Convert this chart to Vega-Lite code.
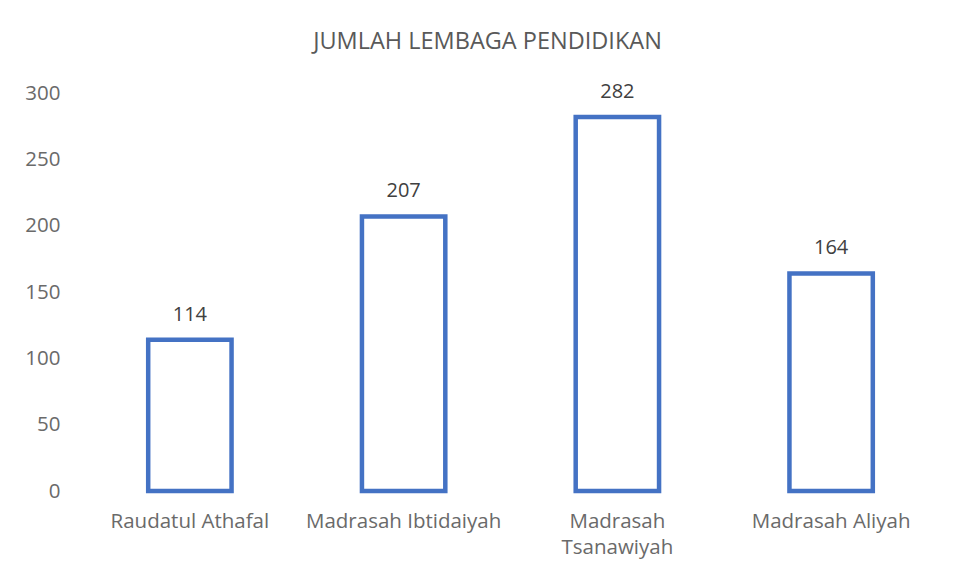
{
  "$schema": "https://vega.github.io/schema/vega-lite/v6.json",
  "autosize": {"type": "none"},
  "width": 855,
  "height": 398,
  "padding": {"left": 83, "top": 93, "right": 27, "bottom": 87},
  "background": "white",
  "title": {
    "text": "JUMLAH LEMBAGA PENDIDIKAN",
    "anchor": "middle",
    "dx": -23,
    "offset": 28,
    "font": "Open Sans",
    "fontSize": 23.5,
    "fontWeight": "normal",
    "color": "#595959",
    "limit": 0
  },
  "config": {"view": {"stroke": null}},
  "data": {
    "values": [
      {"kategori": "Raudatul Athafal", "jumlah": 114},
      {"kategori": "Madrasah Ibtidaiyah", "jumlah": 207},
      {"kategori": "Madrasah Tsanawiyah", "jumlah": 282},
      {"kategori": "Madrasah Aliyah", "jumlah": 164}
    ]
  },
  "encoding": {
    "x": {
      "field": "kategori",
      "type": "nominal",
      "sort": null,
      "title": null,
      "scale": {"paddingInner": 0.61, "paddingOuter": 0.305},
      "axis": {
        "domain": false,
        "ticks": false,
        "labelAngle": 0,
        "labelFont": "Open Sans",
        "labelFontSize": 20.5,
        "labelColor": "#6a6a6a",
        "labelPadding": 20,
        "labelLimit": 0,
        "labelLineHeight": 26,
        "labelExpr": "datum.label == 'Madrasah Tsanawiyah' ? ['Madrasah', 'Tsanawiyah'] : datum.label"
      }
    },
    "y": {
      "field": "jumlah",
      "type": "quantitative",
      "title": null,
      "scale": {"domain": [0, 300], "nice": false},
      "axis": {
        "values": [0, 50, 100, 150, 200, 250, 300],
        "grid": false,
        "domain": false,
        "ticks": false,
        "labelFont": "Open Sans",
        "labelFontSize": 20.5,
        "labelColor": "#6a6a6a",
        "labelPadding": 23
      }
    }
  },
  "layer": [
    {
      "mark": {"type": "bar", "fill": "white", "stroke": "#4472C4", "strokeWidth": 4.5}
    },
    {
      "mark": {"type": "text", "baseline": "alphabetic", "dy": -19, "font": "Open Sans", "fontSize": 20, "color": "#404040"},
      "encoding": {"text": {"field": "jumlah", "type": "quantitative"}}
    }
  ]
}
